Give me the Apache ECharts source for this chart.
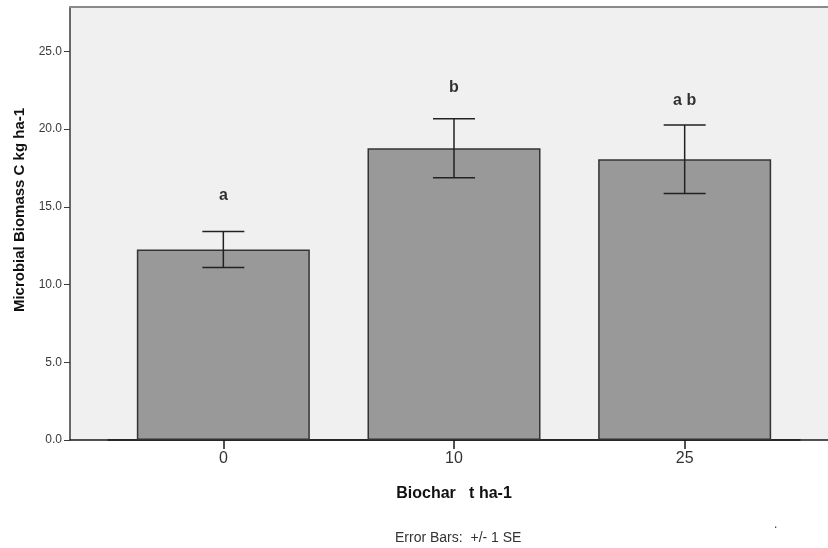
<!DOCTYPE html>
<html>
<head>
<meta charset="utf-8">
<script src="https://cdn.jsdelivr.net/npm/echarts@6/dist/echarts.min.js"></script>
<style>
  html, body { margin: 0; padding: 0; background: #ffffff; }
  #chart { width: 828px; height: 548px; }
</style>
</head>
<body>
<div id="chart"></div>
<script>
// Biochar application rates (t ha-1)
const categories = ['0', '10', '25'];
// Mean microbial biomass C (kg ha-1)
const means = [12.25, 18.77, 18.06];
// Standard error of each mean
const stdErrors = [1.16, 1.90, 2.20];
// Significance letters and the value at which each is written
const letters = ['a', 'b', 'a b'];
const letterValues = [15.7, 22.64, 21.8];
// Y axis ticks
const yMin = 0, yMax = 27.85, yStep = 5;

const FONT = '"Liberation Sans", Arial, sans-serif';

const chart = echarts.init(document.getElementById('chart'), null, { renderer: 'canvas' });

const errorData = categories.map((c, i) => [i, means[i] - stdErrors[i], means[i] + stdErrors[i]]);
const letterData = categories.map((c, i) => ({ value: [i, letterValues[i]], label: { formatter: letters[i] } }));

chart.setOption({
  animation: false,
  backgroundColor: '#ffffff',
  grid: [
    // frame of the plot area
    { left: 70, right: 0, top: 7, bottom: 108, show: true, backgroundColor: '#f0f0f0', borderWidth: 0,
      containLabel: false, outerBoundsMode: 'none' },
    // band holding the three bars
    { left: 108, right: 28, top: 7, bottom: 108, containLabel: false, outerBoundsMode: 'none' }
  ],
  xAxis: [
    { gridIndex: 0, type: 'value', min: 0, max: 1, position: 'bottom',
      axisLine: { show: true, lineStyle: { color: '#1a1a1a', width: 1.5 } },
      axisTick: { show: false }, axisLabel: { show: false }, splitLine: { show: false } },
    { gridIndex: 0, type: 'value', min: 0, max: 1, position: 'top',
      axisLine: { show: true, lineStyle: { color: '#8a8a8a', width: 2 } },
      axisTick: { show: false }, axisLabel: { show: false }, splitLine: { show: false } },
    { gridIndex: 1, type: 'category', data: categories, position: 'bottom',
      axisLine: { show: true, lineStyle: { color: '#1a1a1a', width: 1.5 } },
      axisTick: { show: true, alignWithLabel: true, length: 9, lineStyle: { color: '#1a1a1a', width: 1.5 } },
      axisLabel: { color: '#333333', fontSize: 16, fontFamily: FONT, margin: 11 },
      name: 'Biochar   t ha-1', nameLocation: 'middle', nameGap: 46,
      nameTextStyle: { color: '#111111', fontSize: 16, fontWeight: 'bold', fontFamily: FONT } }
  ],
  yAxis: [
    { gridIndex: 0, type: 'value', min: yMin, max: yMax, interval: yStep,
      axisLine: { show: true, lineStyle: { color: '#3a3a3a', width: 1.5 } },
      axisTick: { show: true, length: 6, lineStyle: { color: '#3a3a3a', width: 1 } },
      axisLabel: { color: '#3a3a3a', fontSize: 12, fontFamily: FONT, margin: 8,
        formatter: v => v.toFixed(1), showMaxLabel: false },
      splitLine: { show: false } },
    { gridIndex: 1, type: 'value', min: yMin, max: yMax, interval: yStep, show: false }
  ],
  series: [
    {
      type: 'bar', xAxisIndex: 2, yAxisIndex: 1, data: means, barWidth: 173,
      itemStyle: { color: '#999999', borderColor: '#333333', borderWidth: 1.5 }
    },
    {
      type: 'custom', xAxisIndex: 2, yAxisIndex: 1, data: errorData, z: 5,
      renderItem: function (params, api) {
        const x = api.value(0);
        const lo = api.coord([x, api.value(1)]);
        const hi = api.coord([x, api.value(2)]);
        const half = 21;
        const style = { stroke: '#222222', lineWidth: 1.5 };
        return {
          type: 'group',
          children: [
            { type: 'line', shape: { x1: hi[0], y1: hi[1], x2: lo[0], y2: lo[1] }, style },
            { type: 'line', shape: { x1: hi[0] - half, y1: hi[1], x2: hi[0] + half, y2: hi[1] }, style },
            { type: 'line', shape: { x1: lo[0] - half, y1: lo[1], x2: lo[0] + half, y2: lo[1] }, style }
          ]
        };
      }
    },
    {
      type: 'scatter', xAxisIndex: 2, yAxisIndex: 1, data: letterData, symbolSize: 0, z: 6,
      label: { show: true, position: 'inside', color: '#000000', fontSize: 16, fontWeight: 'bold', fontFamily: FONT }
    }
  ],
  graphic: [
    { type: 'text', x: 20, y: 210, rotation: Math.PI / 2,
      style: { text: 'Microbial Biomass C kg ha-1', fill: '#111111', font: 'bold 15px ' + FONT,
        align: 'center', verticalAlign: 'middle' } },
    { type: 'text', left: 395, top: 531,
      style: { text: 'Error Bars:  +/- 1 SE', fill: '#333333', font: '14px ' + FONT } },
    { type: 'text', left: 774, top: 519,
      style: { text: '.', fill: '#333333', font: '12px ' + FONT } }
  ]
});
</script>
</body>
</html>
